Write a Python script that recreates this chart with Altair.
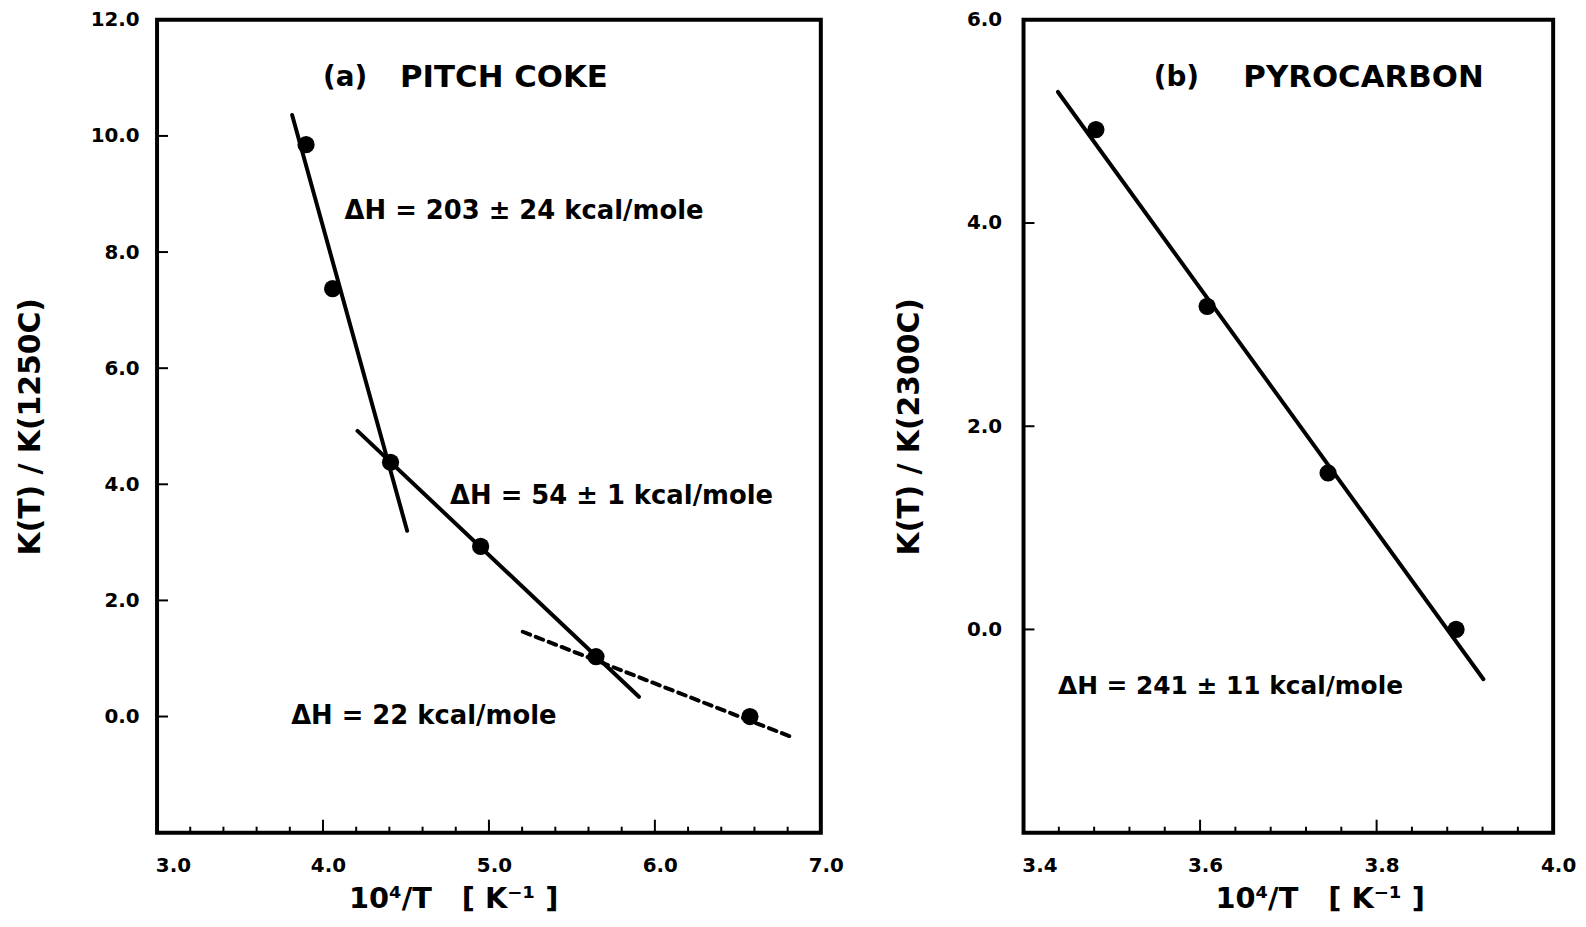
import altair as alt
import pandas as pd

NB = "\u00a0"
FONT = "DejaVu Sans"

# ---------------- Panel (a): PITCH COKE ----------------
a_pt_x = [3.898, 4.058, 4.407, 4.950, 5.645, 6.573]
a_pt_y = [9.85, 7.37, 4.38, 2.93, 1.03, 0.0]

a_fit_seg = ["s1", "s1", "s2", "s2"]
a_fit_x = [3.814, 4.507, 4.208, 5.904]
a_fit_y = [10.36, 3.20, 4.92, 0.34]

a_dash_x = [5.204, 6.813]
a_dash_y = [1.46, -0.34]

a_lab_text = ["(a)", "PITCH COKE", "ΔH = 203 ± 24 kcal/mole", "ΔH = 54 ± 1 kcal/mole", "ΔH = 22 kcal/mole"]
a_lab_x = [4.0, 4.464, 4.13, 4.766, 3.808]
a_lab_y = [11.0, 11.0, 8.71, 3.80, 0.0]
a_lab_size = [28, 31, 26, 26, 26]

a_x_labels = [3.0, 4.0, 5.0, 6.0, 7.0]
a_y_labels = [0.0, 2.0, 4.0, 6.0, 8.0, 10.0, 12.0]
a_x_major = [4.0, 5.0, 6.0]
a_x_minor = [3.2, 3.4, 3.6, 3.8, 4.2, 4.4, 4.6, 4.8, 5.2, 5.4, 5.6, 5.8, 6.2, 6.4, 6.6, 6.8]
a_y_major = [0.0, 2.0, 4.0, 6.0, 8.0, 10.0]

# ---------------- Panel (b): PYROCARBON ----------------
b_pt_x = [3.482, 3.608, 3.745, 3.890]
b_pt_y = [4.92, 3.18, 1.54, 0.0]

b_fit_x = [3.439, 3.921]
b_fit_y = [5.29, -0.49]

b_lab_text = ["(b)", "PYROCARBON", "ΔH = 241 ± 11 kcal/mole"]
b_lab_x = [3.5475, 3.649, 3.439]
b_lab_y = [5.43, 5.43, -0.56]
b_lab_size = [28, 31, 25]

b_x_labels = [3.4, 3.6, 3.8, 4.0]
b_y_labels = [0.0, 2.0, 4.0, 6.0]
b_x_major = [3.6, 3.8]
b_x_minor = [3.44, 3.48, 3.52, 3.56, 3.64, 3.68, 3.72, 3.76, 3.84, 3.88, 3.92, 3.96]
b_y_major = [0.0, 2.0, 4.0]

X_TITLE = "10⁴/T" + NB * 3 + "[" + NB + "K⁻¹" + NB + "]"

H = 818


def panel(W, xdom, ydom, xlabels, ylabels, ytitle, ylabpad, ytitlepad,
          pts, fits, dash, labs, xmaj, xmin, ymaj):
    xs = alt.Scale(domain=xdom, nice=False, zero=False)
    ys = alt.Scale(domain=ydom, nice=False, zero=False)
    loff = {
        "condition": {"test": f"datum.value <= {xlabels[0]}", "value": 16},
        "value": 5,
    }
    xa = alt.Axis(values=xlabels, format=".1f", title=X_TITLE, grid=False, ticks=False,
                  domain=False, labelFontSize=20, labelFontWeight="bold", labelFont=FONT,
                  labelColor="black", labelPadding=33, labelBaseline="middle",
                  labelFlush=False, labelOffset=loff, labelOverlap=False,
                  titleFontSize=29, titleFontWeight="bold", titleFont=FONT, titleColor="black",
                  titleX=298, titleY=66, titleBaseline="middle", titleAlign="center",
                  titleAnchor="start")
    ya = alt.Axis(values=ylabels, format=".1f", title=ytitle, grid=False, ticks=False,
                  domain=False, labelFontSize=20, labelFontWeight="bold", labelFont=FONT,
                  labelColor="black", labelPadding=ylabpad, labelOverlap=False,
                  labelFlush=False,
                  titleFontSize=30, titleFontWeight="bold", titleFont=FONT, titleColor="black",
                  titlePadding=ytitlepad)

    def X(f):
        return alt.X(f, type="quantitative", scale=xs, axis=xa)

    def Y(f):
        return alt.Y(f, type="quantitative", scale=ys, axis=ya)

    pts_df = pd.DataFrame({"x": pts[0], "y": pts[1]})
    fit_df = pd.DataFrame({"seg": fits[0], "x": fits[1], "y": fits[2]})
    lab_df = pd.DataFrame({"t": labs[0], "x": labs[1], "y": labs[2], "s": labs[3]})

    layers = []
    layers.append(alt.Chart(fit_df).mark_line(color="black", strokeWidth=4, strokeCap="round")
                  .encode(x=X("x"), y=Y("y"), detail="seg:N"))
    if dash is not None:
        dash_df = pd.DataFrame({"x": dash[0], "y": dash[1]})
        layers.append(alt.Chart(dash_df).mark_line(color="black", strokeWidth=4,
                                                   strokeDash=[8, 6], strokeCap="round")
                      .encode(x=X("x"), y=Y("y")))
    layers.append(alt.Chart(pts_df).mark_circle(color="black", size=300, opacity=1)
                  .encode(x=X("x"), y=Y("y")))
    layers.append(alt.Chart(lab_df).mark_text(align="left", baseline="middle", font=FONT,
                                              fontWeight="bold", color="black")
                  .encode(x=X("x"), y=Y("y"), text="t:N",
                          size=alt.Size("s:Q", scale=None, legend=None)))
    # inward ticks
    layers.append(alt.Chart(pd.DataFrame({"t": xmaj})).mark_rule(color="black", strokeWidth=2)
                  .encode(x=X("t"), y=alt.value(H), y2=alt.value(H - 13)))
    layers.append(alt.Chart(pd.DataFrame({"t": xmin})).mark_rule(color="black", strokeWidth=2)
                  .encode(x=X("t"), y=alt.value(H), y2=alt.value(H - 6)))
    layers.append(alt.Chart(pd.DataFrame({"t": ymaj})).mark_rule(color="black", strokeWidth=2)
                  .encode(y=Y("t"), x=alt.value(0), x2=alt.value(11)))
    return alt.layer(*layers).properties(width=W, height=H)


left = panel(668, [3.0, 7.0], [-2.0, 12.0], a_x_labels, a_y_labels, "K(T) / K(1250C)", 18, 45,
             (a_pt_x, a_pt_y), (a_fit_seg, a_fit_x, a_fit_y), (a_dash_x, a_dash_y),
             (a_lab_text, a_lab_x, a_lab_y, a_lab_size), a_x_major, a_x_minor, a_y_major)

right = panel(533, [3.4, 4.0], [-2.0, 6.0], b_x_labels, b_y_labels, "K(T) / K(2300C)", 22, 42,
              (b_pt_x, b_pt_y), (["s1", "s1"], b_fit_x, b_fit_y), None,
              (b_lab_text, b_lab_x, b_lab_y, b_lab_size), b_x_major, b_x_minor, b_y_major)

chart = (alt.hconcat(left, right, spacing=47)
         .properties(padding={"left": 5, "top": -3, "right": 0, "bottom": 0}, background="white")
         .configure(font=FONT)
         .configure_view(stroke="black", strokeWidth=4))

chart.save("out.html", embed_options={"renderer": "svg", "actions": False})
